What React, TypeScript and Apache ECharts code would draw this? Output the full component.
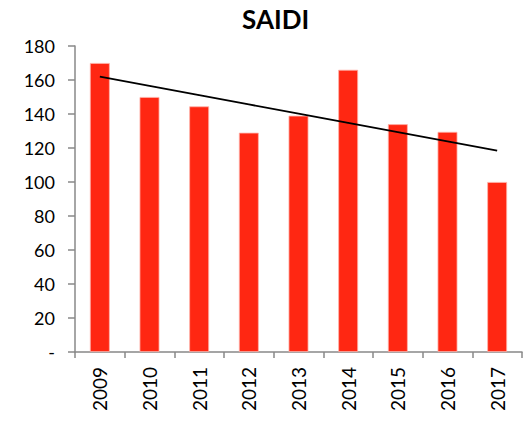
import React, { useEffect, useRef } from "react";
import * as echarts from "echarts";

const years = ["2009", "2010", "2011", "2012", "2013", "2014", "2015", "2016", "2017"];
const saidi = [170, 150, 144.5, 129, 139, 166, 134, 129.5, 100];

function linearTrend(values: number[]): number[] {
  const n = values.length;
  const mx = (n - 1) / 2;
  const my = values.reduce((a, b) => a + b, 0) / n;
  let num = 0;
  let den = 0;
  values.forEach((v, i) => {
    num += (i - mx) * (v - my);
    den += (i - mx) * (i - mx);
  });
  const slope = num / den;
  return values.map((_, i) => my + slope * (i - mx));
}

const FONT = "Lato, 'Open Sans', sans-serif";

export default function App() {
  const ref = useRef<HTMLDivElement>(null);
  useEffect(() => {
    if (!ref.current) return;
    const chart = echarts.init(ref.current, undefined, { renderer: "svg" });
    const trend = linearTrend(saidi);
    chart.setOption({
      animation: false,
      backgroundColor: "#ffffff",
      title: {
        text: "SAIDI",
        left: 237,
        top: 1,
        textStyle: { fontFamily: FONT, fontSize: 26, fontWeight: "bold", color: "#000" },
      },
      grid: { left: 75, right: 10, top: 46, bottom: 69, containLabel: false },
      xAxis: {
        type: "category",
        data: years,
        boundaryGap: true,
        axisLine: { lineStyle: { color: "#888888", width: 1.5 } },
        axisTick: { show: true, length: 6, alignWithLabel: false, lineStyle: { color: "#888888", width: 1.5 } },
        axisLabel: {
          rotate: 90,
          margin: 15,
          color: "#000",
          fontFamily: FONT,
          fontSize: 19,
        },
      },
      yAxis: {
        type: "value",
        min: 0,
        max: 180,
        interval: 20,
        splitLine: { show: false },
        axisLine: { show: true, lineStyle: { color: "#888888", width: 1.5 } },
        axisTick: { show: true, length: 7, lineStyle: { color: "#888888", width: 1.5 } },
        axisLabel: {
          margin: 20,
          color: "#000",
          fontFamily: FONT,
          fontSize: 18,
          formatter: (v: number) => (v === 0 ? "-" : String(v)),
        },
      },
      series: [
        {
          type: "bar",
          data: saidi,
          barCategoryGap: "60%",
          itemStyle: { color: "#ff2712", borderColor: "#ffb3aa", borderWidth: 0.8 },
        },
        {
          type: "line",
          data: trend,
          symbol: "none",
          lineStyle: { color: "#000000", width: 1.8 },
          z: 5,
        },
      ],
    });
    return () => chart.dispose();
  }, []);
  return <div ref={ref} style={{ width: 532, height: 421, position: "absolute", left: 0, top: 0 }} />;
}
